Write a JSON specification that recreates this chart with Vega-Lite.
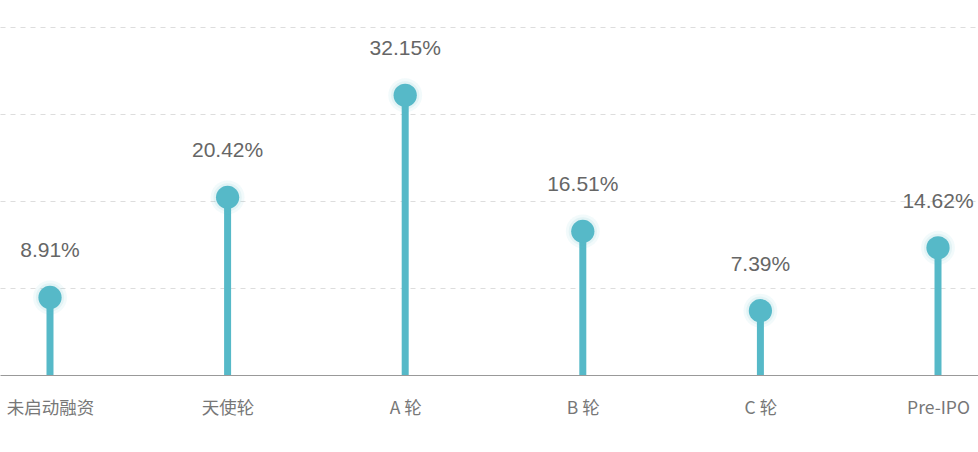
{
  "$schema": "https://vega.github.io/schema/vega-lite/v6.json",
  "width": 978,
  "height": 348,
  "autosize": {"type": "none"},
  "padding": {"left": 0, "top": 27, "right": 0, "bottom": 77},
  "background": "#ffffff",
  "data": {
    "values": [
      {"stage": "未启动融资", "share": 0.0891},
      {"stage": "天使轮", "share": 0.2042},
      {"stage": "A 轮", "share": 0.3215},
      {"stage": "B 轮", "share": 0.1651},
      {"stage": "C 轮", "share": 0.0739},
      {"stage": "Pre-IPO", "share": 0.1462}
    ]
  },
  "encoding": {
    "x": {
      "field": "stage",
      "type": "ordinal",
      "sort": null,
      "scale": {"type": "point", "padding": 0.2815, "range": [0, 988]},
      "axis": {
        "title": null,
        "labelAngle": 0,
        "ticks": false,
        "labelFontSize": 17.5,
        "labelColor": "#777777",
        "labelFont": "Noto Sans CJK SC",
        "labelPadding": 24,
        "domainColor": "#999999",
        "domainWidth": 1
      }
    },
    "y": {
      "field": "share",
      "type": "quantitative",
      "scale": {"domain": [0, 0.4]},
      "axis": {
        "title": null,
        "values": [0.1, 0.2, 0.3, 0.4],
        "labels": false,
        "ticks": false,
        "domain": false,
        "grid": true,
        "gridColor": "#dddddd",
        "gridDash": [5, 5],
        "gridWidth": 1
      }
    }
  },
  "layer": [
    {
      "mark": {"type": "rule", "color": "#56b9c8", "strokeWidth": 7, "strokeCap": "butt"},
      "encoding": {"y2": {"datum": 0}}
    },
    {
      "mark": {"type": "circle", "color": "#56b9c8", "opacity": 0.08, "size": 1150}
    },
    {
      "mark": {"type": "circle", "color": "#56b9c8", "opacity": 0.1, "size": 800}
    },
    {
      "mark": {"type": "circle", "color": "#56b9c8", "opacity": 1, "size": 540}
    },
    {
      "mark": {
        "type": "text",
        "dy": -46,
        "fontSize": 21,
        "font": "Liberation Sans",
        "color": "#666666"
      },
      "encoding": {
        "text": {"field": "share", "type": "quantitative", "format": ".2%"}
      }
    }
  ],
  "config": {
    "view": {"stroke": null}
  }
}
